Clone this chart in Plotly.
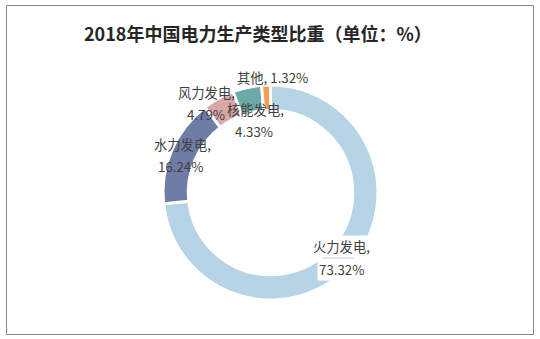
import plotly.graph_objects as go

categories = ["火力发电", "水力发电", "风力发电", "核能发电", "其他"]
values = [73.32, 16.24, 4.79, 4.33, 1.32]
colors = ["#b7d3e6", "#6f7ca6", "#d9a7a7", "#6aaaa8", "#f39e55"]
title_text = "2018年中国电力生产类型比重（单位：%）"

W, H = 540, 339
cx, cy, R = 270.5, 192.5, 107.5

fig = go.Figure()
fig.add_trace(go.Pie(
    labels=categories,
    values=values,
    sort=False,
    direction="clockwise",
    rotation=0,
    hole=0.765,
    marker=dict(colors=colors, line=dict(color="white", width=3)),
    textinfo="none",
    hoverinfo="label+percent",
    showlegend=False,
    domain=dict(x=[(cx - R) / W, (cx + R) / W], y=[1 - (cy + R) / H, 1 - (cy - R) / H]),
))

# label line positions (pixels)
label_pos = {
    "火力发电": [(341, 246), (341, 269)],
    "水力发电": [(182, 144), (180, 166)],
    "风力发电": [(206, 92), (206, 114)],
    "核能发电": [(255, 109), (254, 131)],
    "其他": [(272, 77)],
}
label_bg = {"火力发电": "white"}
annotations = []
for name, val in zip(categories, values):
    pos = label_pos[name]
    if len(pos) == 2:
        lines = [name + ",", f"{val:.2f}%"]
    else:
        lines = [f"{name}, {val:.2f}%"]
    for txt, (px, py) in zip(lines, pos):
        annotations.append(dict(
            text=txt, x=px / W, y=1 - py / H, xref="paper", yref="paper",
            xanchor="center", yanchor="middle", showarrow=False,
            bgcolor=label_bg.get(name, "rgba(0,0,0,0)"), borderpad=1,
            font=dict(family="Noto Sans CJK SC", size=13.3, color="#404040"),
        ))

annotations.append(dict(
    text="<b>" + title_text + "</b>", x=258 / W, y=1 - 33 / H, xref="paper", yref="paper",
    xanchor="center", yanchor="middle", showarrow=False,
    font=dict(family="Noto Sans CJK SC", size=18, color="#262626"),
))

fig.update_layout(
    width=W, height=H,
    margin=dict(l=0, r=0, t=0, b=0),
    paper_bgcolor="white",
    plot_bgcolor="white",
    annotations=annotations,
    shapes=[dict(type="rect", xref="paper", yref="paper",
                 x0=6.5 / W, x1=533.5 / W, y0=1 - 334.5 / H, y1=1 - 5.5 / H,
                 line=dict(color="#878787", width=1), layer="below")],
)

fig.write_html("out.html")
